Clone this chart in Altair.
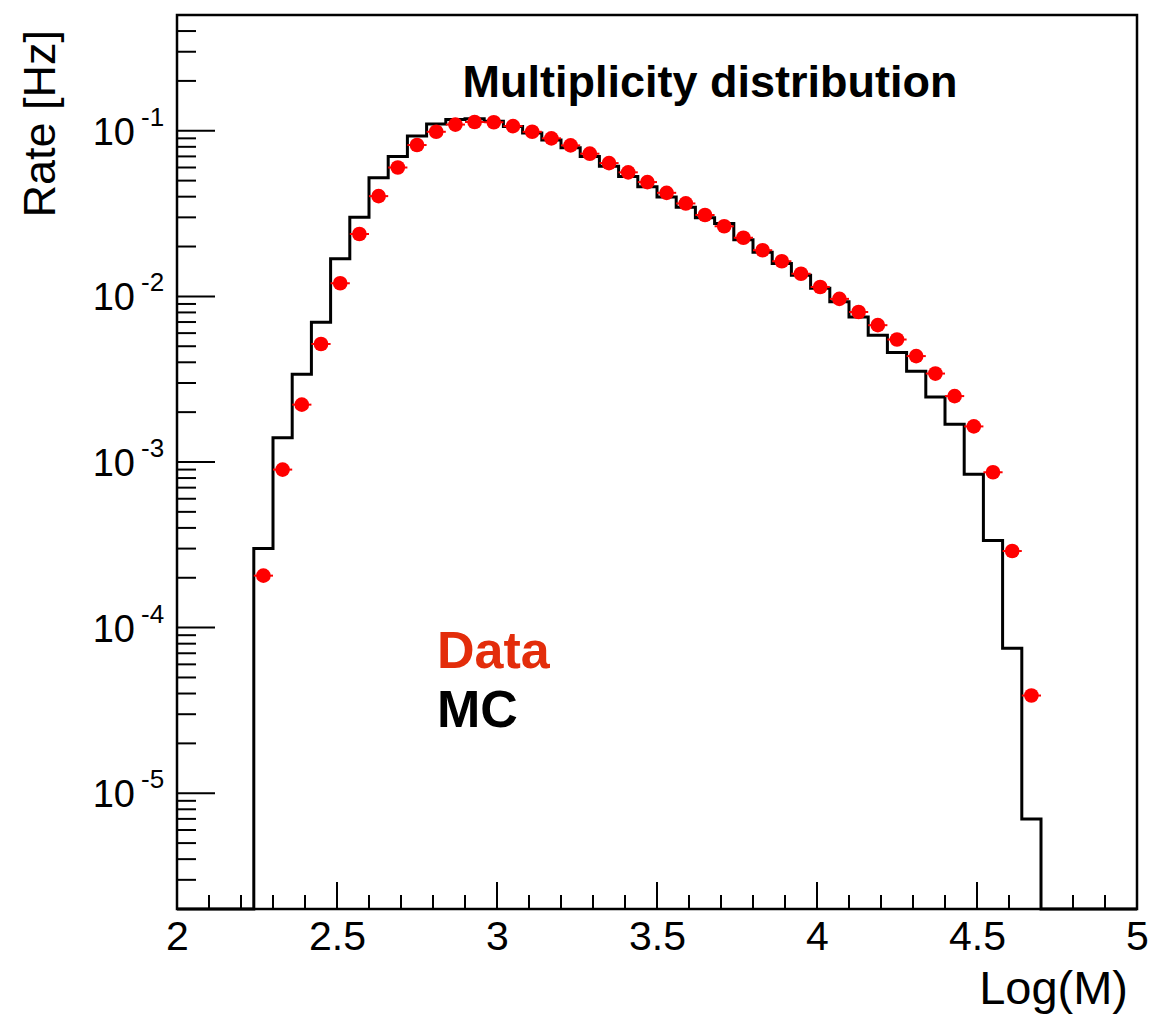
import altair as alt
import pandas as pd
import numpy as np

# ---------------- data ----------------
X_MIN, X_MAX = 2.0, 5.0
Y_MIN, Y_MAX = 2e-6, 0.5
BIN_WIDTH = 0.06
N_BINS = 50

# Data points (bin centres) and measured rates [Hz]
data_x = [2.27, 2.33, 2.39, 2.45, 2.51, 2.57, 2.63, 2.69, 2.75, 2.81,
          2.87, 2.93, 2.99, 3.05, 3.11, 3.17, 3.23, 3.29, 3.35, 3.41,
          3.47, 3.53, 3.59, 3.65, 3.71, 3.77, 3.83, 3.89, 3.95, 4.01,
          4.07, 4.13, 4.19, 4.25, 4.31, 4.37, 4.43, 4.49, 4.55, 4.61, 4.67]
data_rate = [2.06e-4, 9.0e-4, 2.22e-3, 5.16e-3, 1.20e-2, 2.38e-2, 4.03e-2, 6.0e-2, 8.2e-2, 9.86e-2,
             0.109, 0.113, 0.1125, 0.1067, 0.0986, 0.090, 0.0816, 0.0727, 0.0638, 0.0561,
             0.049, 0.0422, 0.0364, 0.031, 0.0265, 0.0226, 0.019, 0.0163, 0.0137, 0.0114,
             0.00966, 0.00805, 0.00670, 0.00549, 0.00436, 0.00342, 0.00250, 0.00164, 8.67e-4, 2.9e-4,
             3.89e-5]

# MC histogram contents, 50 bins from 2 to 5
mc_rate = [0, 0, 0, 0,
           3.0e-4, 1.40e-3, 3.39e-3, 6.98e-3, 1.69e-2, 3.0e-2, 5.2e-2, 7.0e-2, 9.3e-2, 0.110,
           0.117, 0.118, 0.114, 0.106, 0.097, 0.088, 0.079, 0.070, 0.061, 0.053,
           0.0459, 0.0398, 0.0345, 0.0298, 0.0275, 0.0220, 0.0185, 0.0158, 0.0134, 0.0112,
           0.00927, 0.00752, 0.00583, 0.00458, 0.00353, 0.00247, 0.00169, 8.43e-4, 3.36e-4, 7.5e-5,
           7.0e-6,
           0, 0, 0, 0, 0]

y_major = [1e-1, 1e-2, 1e-3, 1e-4, 1e-5]
y_major_exp = ["-1", "-2", "-3", "-4", "-5"]
x_major = [2.0, 2.5, 3.0, 3.5, 4.0, 4.5, 5.0]

# ---------------- tables ----------------
edges = [round(X_MIN + BIN_WIDTH * i, 2) for i in range(N_BINS + 1)]
mc_vals = [v if v > 0 else Y_MIN for v in mc_rate]
mc_df = pd.DataFrame({"edge": edges, "rate": mc_vals + [mc_vals[-1]]})

data_df = pd.DataFrame({"x": data_x, "rate": data_rate})
data_df["lo"] = data_df["x"] - BIN_WIDTH / 2
data_df["hi"] = data_df["x"] + BIN_WIDTH / 2

y_minor = []
for e in range(-6, 0):
    for k in range(2, 10):
        v = k * 10.0 ** e
        if Y_MIN * 1.001 < v < Y_MAX * 0.999:
            y_minor.append(v)
x_minor = [round(X_MIN + 0.1 * i, 1) for i in range(1, 30)]

ymaj_df = pd.DataFrame({"v": y_major, "base": ["10"] * len(y_major), "exp": y_major_exp})
ymin_df = pd.DataFrame({"v": y_minor})
xmaj_df = pd.DataFrame({"v": x_major})
xmin_df = pd.DataFrame({"v": x_minor})

W, H = 960, 894
FONT = "Liberation Sans"

xs = alt.Scale(domain=[X_MIN, X_MAX], nice=False, zero=False)
ys = alt.Scale(type="log", domain=[Y_MIN, Y_MAX], nice=False)
x_axis = alt.Axis(values=x_major, labelExpr="datum.value == 2 ? '2' : datum.value == 3 ? '3' : datum.value == 4 ? '4' : datum.value == 5 ? '5' : format(datum.value, '.1f')",
                  ticks=False, domain=False, grid=False, title=None,
                  labelFontSize=41, labelFont=FONT, labelColor="black",
                  labelPadding=8, labelFlush=False, labelOverlap=False, tickSize=0)


def X(field):
    return alt.X(field, type="quantitative", scale=xs, axis=x_axis)


def Y(field):
    return alt.Y(field, type="quantitative", scale=ys, axis=None)


mc_line = alt.Chart(mc_df).mark_line(interpolate="step-after", color="black", strokeWidth=3).encode(
    x=X("edge"), y=Y("rate"))

err = alt.Chart(data_df).mark_rule(color="#ff0000", strokeWidth=2).encode(
    x=X("lo"), x2="hi", y=Y("rate"))

pts = alt.Chart(data_df).mark_circle(color="#ff0000", size=215, opacity=1).encode(
    x=X("x"), y=Y("rate"))

ymaj_ticks = alt.Chart(ymaj_df).mark_rule(color="black", strokeWidth=2).encode(
    y=Y("v"), x=alt.value(0), x2=alt.value(38))
ymin_ticks = alt.Chart(ymin_df).mark_rule(color="black", strokeWidth=2).encode(
    y=Y("v"), x=alt.value(0), x2=alt.value(19))
xmaj_ticks = alt.Chart(xmaj_df).mark_rule(color="black", strokeWidth=2).encode(
    x=X("v"), y=alt.value(H), y2=alt.value(H - 27))
xmin_ticks = alt.Chart(xmin_df).mark_rule(color="black", strokeWidth=2).encode(
    x=X("v"), y=alt.value(H), y2=alt.value(H - 14))

ylab_base = alt.Chart(ymaj_df).mark_text(align="right", baseline="alphabetic", dy=14,
                                         fontSize=38, font=FONT, color="black").encode(
    y=Y("v"), x=alt.value(-42), text="base:N")
ylab_exp = alt.Chart(ymaj_df).mark_text(align="left", baseline="alphabetic", dy=-5,
                                        fontSize=26, font=FONT, color="black").encode(
    y=Y("v"), x=alt.value(-36), text="exp:N")


def label(text, x, y, size, bold=False, color="black", align="left", angle=0):
    kw = dict(align=align, baseline="alphabetic", fontSize=size, font=FONT, color=color)
    if bold:
        kw["fontWeight"] = "bold"
    if angle:
        kw["angle"] = angle
    return alt.Chart(pd.DataFrame({"t": [text]})).mark_text(**kw).encode(
        x=alt.value(x), y=alt.value(y), text="t:N")


title = label("Multiplicity distribution", 533, 82, 45, bold=True, align="center")
leg_data = label("Data", 260, 653, 52, bold=True, color="#e32d0b")
leg_mc = label("MC", 260, 712, 52, bold=True)
xtitle = label("Log(M)", 951, 989, 47, align="right")
ytitle = label("Rate [Hz]", -122, 15, 45, align="right", angle=270)

chart = alt.layer(
    mc_line, err, pts,
    ymaj_ticks, ymin_ticks, xmaj_ticks, xmin_ticks,
    ylab_base, ylab_exp,
    title, leg_data, leg_mc, xtitle, ytitle,
).properties(
    width=W, height=H,
    autosize=alt.AutoSizeParams(type="none"),
    padding={"left": 177, "top": 15, "right": 12, "bottom": 112},
    background="white",
).configure_view(stroke="black", strokeWidth=2.5)

chart.save("out.html", embed_options={"renderer": "svg", "actions": False})
